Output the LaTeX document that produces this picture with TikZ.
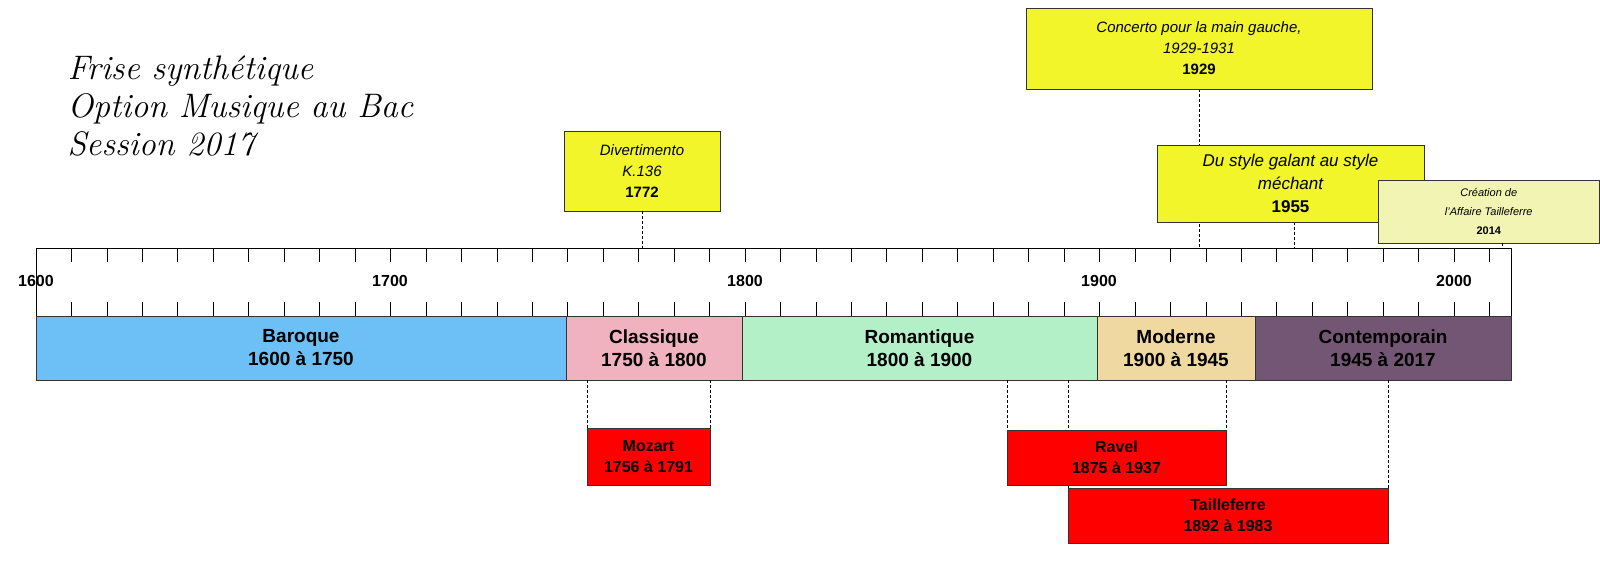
\documentclass[tikz,border=0pt]{standalone}
\usepackage{fontspec}
\setmainfont{Liberation Sans}
\newfontfamily\titlefont{Latin Modern Roman}
\definecolor{baro}{HTML}{6CC0F5}
\definecolor{clas}{HTML}{F0B2BE}
\definecolor{roma}{HTML}{B3F0C8}
\definecolor{mode}{HTML}{F0D9A0}
\definecolor{cont}{HTML}{735574}
\definecolor{evy}{HTML}{F2F52A}
\definecolor{evl}{HTML}{F2F4B4}
\definecolor{bred}{HTML}{FF0000}
\begin{document}
\begin{tikzpicture}[x=1pt,y=-1pt,
  per/.style={draw=black!80,line width=0.8pt,font=\bfseries\fontsize{19}{23}\selectfont,align=center},
  ev/.style={draw=black!80,line width=0.8pt,fill=evy,align=center},
  pers/.style={draw=black!80,line width=0.8pt,fill=bred,align=center,font=\bfseries\fontsize{16}{21}\selectfont},
  dline/.style={densely dashed,line width=0.7pt}]
% axis
\draw[line width=0.9pt] (36,248) rectangle (1511,316);
\foreach \i in {1,...,41}{
  \pgfmathsetmacro\xx{36+\i*35.45}
  \draw[line width=0.7pt] (\xx,248) -- (\xx,262);
  \draw[line width=0.7pt] (\xx,302) -- (\xx,316);}
\foreach \y/\x in {1600/36,1700/390,1800/745,1900/1099,2000/1454}
  \node[font=\bfseries\fontsize{16}{18}\selectfont] at (\x,281) {\y};
% periods
\path[per,fill=baro] (36,316) rectangle node {Baroque\\1600 à 1750} (566,380);
\path[per,fill=clas] (566,316) rectangle node {Classique\\1750 à 1800} (742,380);
\path[per,fill=roma] (742,316) rectangle node {Romantique\\1800 à 1900} (1097,380);
\path[per,fill=mode] (1097,316) rectangle node {Moderne\\1900 à 1945} (1255,380);
\path[per,fill=cont] (1255,316) rectangle node {Contemporain\\1945 à 2017} (1511,380);
% events
\draw[ev] (564,131) rectangle node[font=\fontsize{15}{21}\selectfont] {\itshape Divertimento\\\itshape K.136\\\bfseries 1772} (720,211);
\draw[dline] (642,211) -- (642,248);
\draw[dline] (1199,89) -- (1199,248);
\draw[ev] (1026,8) rectangle node[font=\fontsize{15}{21}\selectfont] {\itshape Concerto pour la main gauche,\\\itshape 1929-1931\\\bfseries 1929} (1372,89);
\draw[dline] (1294,222) -- (1294,248);
\draw[ev] (1157,145) rectangle node[font=\fontsize{17}{23}\selectfont] {\itshape Du style galant au style\\\itshape méchant\\\bfseries 1955} (1424,222);
\draw[ev,fill=evl] (1378,180) rectangle node[font=\fontsize{11}{19}\selectfont] {\itshape Création de\\\itshape l'Affaire Tailleferre\\\bfseries 2014} (1599.5,243);
\draw[dline] (1502,243) -- (1502,248);
% persons
\foreach \x/\yb in {587/428,710/428,1007/430,1226/430,1068/488,1388/488}
  \draw[dline] (\x,380) -- (\x,\yb);
\draw[pers] (587,428) rectangle node {Mozart\\1756 à 1791} (710,485);
\draw[pers] (1007,430) rectangle node {Ravel\\1875 à 1937} (1226,485);
\draw[pers] (1068,488) rectangle node {Tailleferre\\1892 à 1983} (1388,543);
% title
\node[anchor=north west,align=left,font=\titlefont\itshape\fontsize{34}{38}\selectfont] (t) at (64,52) {Frise synthétique\\Option Musique au Bac\\Session 2017};
\pgfresetboundingbox
\useasboundingbox (0,0) rectangle (1600,561);
\end{tikzpicture}
\end{document}
